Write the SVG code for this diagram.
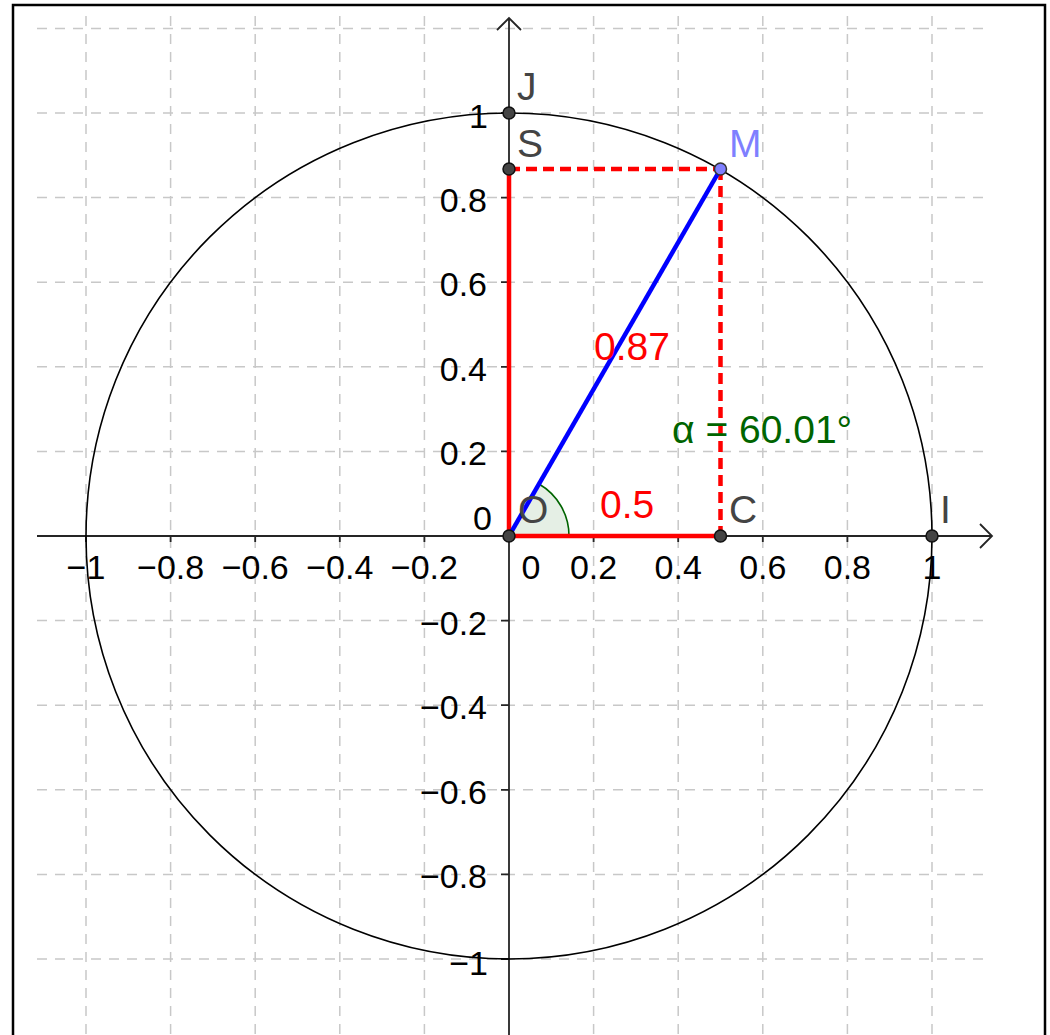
<svg xmlns="http://www.w3.org/2000/svg" width="1050" height="1035" viewBox="0 0 1050 1035">
<style>
.grid{stroke:#c8c8c8;stroke-width:1.5;stroke-dasharray:10 8;fill:none}
.axis{stroke:#252525;stroke-width:1.8;fill:none}
.tick{font-family:"Liberation Sans",Arial,sans-serif;font-size:34px;fill:#000}
.lbl{font-family:"Liberation Sans",Arial,sans-serif;font-size:39px}
.pt{fill:#444;stroke:#111;stroke-width:1.5}
</style>
<rect x="0" y="0" width="1050" height="1035" fill="#fff"/>
<rect x="13" y="5" width="1032" height="1040" fill="none" stroke="#000" stroke-width="2.5"/>
<g id="grid">
<path class="grid" d="M86 16V1035M170.6 16V1035M255.2 16V1035M339.8 16V1035M424.4 16V1035M593.6 16V1035M678.2 16V1035M762.8 16V1035M847.4 16V1035M932 16V1035"/>
<path class="grid" d="M37 28.4H990M37 113H990M37 197.6H990M37 282.2H990M37 366.8H990M37 451.4H990M37 620.6H990M37 705.2H990M37 789.8H990M37 874.4H990M37 959H990"/>
</g>
<g id="axes">
<path class="axis" d="M37 536H992M980 524L992 536L980 548"/>
<path class="axis" d="M509 1035V18M497 30L509 18L521 30"/>
<path class="axis" d="M86 536v6M170.6 536v6M255.2 536v6M339.8 536v6M424.4 536v6M593.6 536v6M678.2 536v6M762.8 536v6M847.4 536v6M932 536v6"/>
<path class="axis" d="M501 113h8M501 197.6h8M501 282.2h8M501 366.8h8M501 451.4h8M501 620.6h8M501 705.2h8M501 789.8h8M501 874.4h8M501 959h8"/>
</g>
<g id="xlabels" class="tick" text-anchor="middle">
<text x="86" y="579">−1</text>
<text x="170.6" y="579">−0.8</text>
<text x="255.2" y="579">−0.6</text>
<text x="339.8" y="579">−0.4</text>
<text x="424.4" y="579">−0.2</text>
<text x="531" y="579">0</text>
<text x="593.6" y="579">0.2</text>
<text x="678.2" y="579">0.4</text>
<text x="762.8" y="579">0.6</text>
<text x="847.4" y="579">0.8</text>
<text x="932" y="579">1</text>
</g>
<g id="ylabels" class="tick" text-anchor="end">
<text x="488" y="128">1</text>
<text x="487" y="212">0.8</text>
<text x="487" y="296">0.6</text>
<text x="487" y="381">0.4</text>
<text x="487" y="465">0.2</text>
<text x="492" y="530">0</text>
<text x="487" y="635">−0.2</text>
<text x="487" y="719">−0.4</text>
<text x="487" y="804">−0.6</text>
<text x="487" y="888">−0.8</text>
<text x="488" y="975">−1</text>
</g>
<g id="circle"><circle cx="509" cy="536" r="423" fill="none" stroke="#000" stroke-width="1.6"/></g>
<g id="angle"><path d="M509 536L569 536A60 60 0 0 0 539 484Z" fill="#006400" fill-opacity="0.1" stroke="none"/><path d="M569 536A60 60 0 0 0 539 484" fill="none" stroke="#006400" stroke-width="1.6"/></g>
<g id="connectors">
<line x1="509" y1="536" x2="509" y2="169" stroke="#ff0000" stroke-width="4.5"/>
<line x1="509" y1="536" x2="720.5" y2="536" stroke="#ff0000" stroke-width="4.5"/>
<line x1="509" y1="169" x2="720.5" y2="169" stroke="#ff0000" stroke-width="4.5" stroke-dasharray="11 6"/>
<line x1="720.5" y1="169" x2="720.5" y2="536" stroke="#ff0000" stroke-width="4.5" stroke-dasharray="11 6"/>
<line x1="509" y1="536" x2="720.5" y2="169" stroke="#0000ff" stroke-width="4.5"/>
</g>
<g id="labels" class="lbl">
<text x="594" y="360" fill="#ff0000">0.87</text>
<text x="600" y="518" fill="#ff0000">0.5</text>
<text x="672" y="443" fill="#006400">α = 60.01°</text>
</g>
<g id="J"><circle class="pt" cx="509" cy="113" r="6"/><text class="lbl" x="517" y="100" fill="#444">J</text></g>
<g id="S"><circle class="pt" cx="509" cy="169" r="6"/><text class="lbl" x="517" y="157" fill="#444">S</text></g>
<g id="M"><circle cx="720.5" cy="169" r="6" fill="#7f7fff" stroke="#333" stroke-width="1.5"/><text class="lbl" x="729" y="157" fill="#7f7fff">M</text></g>
<g id="O"><circle class="pt" cx="509" cy="536" r="6"/><text class="lbl" x="518" y="523" fill="#444">O</text></g>
<g id="C"><circle class="pt" cx="720.5" cy="536" r="6"/><text class="lbl" x="729" y="523" fill="#444">C</text></g>
<g id="I"><circle class="pt" cx="932" cy="536" r="6"/><text class="lbl" x="940" y="523" fill="#444">I</text></g>
</svg>
